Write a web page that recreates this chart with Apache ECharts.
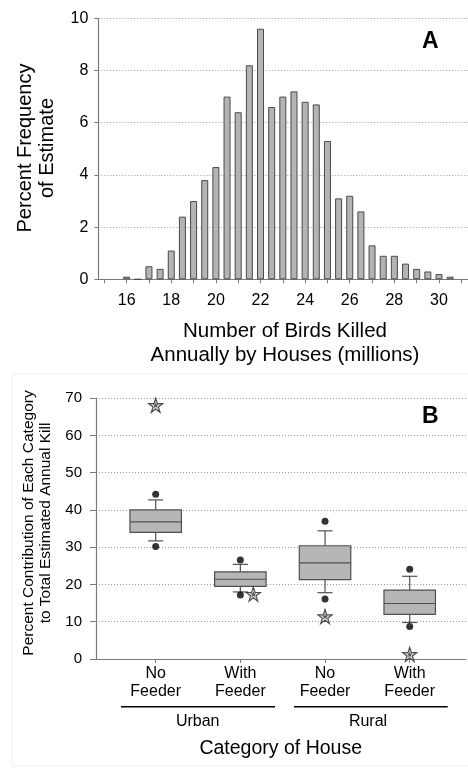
<!DOCTYPE html>
<html><head><meta charset="utf-8">
<script src="https://cdn.jsdelivr.net/npm/echarts@6/dist/echarts.min.js"></script>
<style>html,body{margin:0;padding:0;background:#fff}#c{width:468px;height:772px}</style>
</head><body><div id="c"></div>
<script>
// Panel A: histogram
const binCenters = [16,16.5,17,17.5,18,18.5,19,19.5,20,20.5,21,21.5,22,22.5,23,23.5,24,24.5,25,25.5,26,26.5,27,27.5,28,28.5,29,29.5,30,30.5];
const binPercent = [0.1,0,0.5,0.4,1.1,2.4,3.0,3.8,4.3,7.0,6.4,8.2,9.6,6.6,7.0,7.2,6.8,6.7,5.3,3.1,3.2,2.6,1.3,0.9,0.9,0.6,0.4,0.3,0.2,0.1];
const xTicksA = [15,16,17,18,19,20,21,22,23,24,25,26,27,28,29,30,31];
const xLabelsA = [16,18,20,22,24,26,28,30];

// Panel B: box plots
const categories = ['No\nFeeder','With\nFeeder','No\nFeeder','With\nFeeder'];
const boxLow    = [31.7, 18.0, 17.8, 9.8];
const boxQ1     = [34.0, 19.5, 21.3, 12.0];
const boxMedian = [36.8, 21.4, 25.8, 14.9];
const boxQ3     = [40.0, 23.4, 30.4, 18.5];
const boxHigh   = [42.7, 25.4, 34.4, 22.2];
const dotHigh   = [44.2, 26.6, 37.0, 24.1];
const dotLow    = [30.2, 17.2, 16.1, 8.7];
const starVal   = [68.1, 17.4, 11.4, 1.25];
const starShift = [0, 13, 0, 0];

const FONT = '"Liberation Sans", Arial, sans-serif';
const chart = echarts.init(document.getElementById('c'), null, {renderer:'canvas'});

const barData = binCenters.map((x,i)=>[x, binPercent[i]]);
const boxData = categories.map((c,i)=>[i, boxLow[i], boxQ1[i], boxMedian[i], boxQ3[i], boxHigh[i]]);
const dotData = [];
categories.forEach((c,i)=>{ dotData.push([i, dotHigh[i]]); dotData.push([i, dotLow[i]]); });
const starData = categories.map((c,i)=>({value:[i, starVal[i]], symbolOffset:[starShift[i],0]}));
const starPath = 'path://M50,0 L61.8,35.4 L99,35.4 L69,57.3 L80.4,92.7 L50,70.8 L19.6,92.7 L31,57.3 L1,35.4 L38.2,35.4 Z';

const axisGray = '#7a7a7a';
const gridLineStyle = {color:'#9a9a9a', type:[1,2], width:1};
const TXT = '#000';

chart.setOption({
  animation:false,
  backgroundColor:'#fff',
  grid:[
    {left:98.3, right:0, top:18.3, bottom:492.7},
    {left:96, right:2, top:398.2, bottom:113},
    {left:113.35, right:15.95, top:398.2, bottom:113}
  ],
  xAxis:[
    {type:'value', gridIndex:0, min:14.73, max:31.3,
     axisLine:{show:true, lineStyle:{color:axisGray, width:1.2}},
     axisTick:{show:true, length:4, customValues:xTicksA, lineStyle:{color:axisGray}},
     axisLabel:{show:true, customValues:xLabelsA, margin:13, color:TXT, fontSize:16, fontFamily:FONT},
     splitLine:{show:false}},
    {type:'value', gridIndex:1, min:0, max:1,
     axisLine:{show:true, lineStyle:{color:axisGray, width:1.2}},
     axisTick:{show:false}, axisLabel:{show:false}, splitLine:{show:false}},
    {type:'category', gridIndex:2, data:categories, boundaryGap:true,
     axisLine:{show:false},
     axisTick:{show:true, alignWithLabel:true, length:4, lineStyle:{color:axisGray}},
     axisLabel:{show:true, margin:6, color:TXT, fontSize:16, lineHeight:18, fontFamily:FONT, interval:0},
     splitLine:{show:false}}
  ],
  yAxis:[
    {type:'value', gridIndex:0, min:0, max:10, interval:2,
     axisLine:{show:true, lineStyle:{color:axisGray, width:1.2}},
     axisTick:{show:true, length:4, lineStyle:{color:axisGray}},
     axisLabel:{margin:10, color:TXT, fontSize:16, fontFamily:FONT},
     splitLine:{show:true, lineStyle:gridLineStyle}},
    {type:'value', gridIndex:1, min:0, max:70, interval:10,
     axisLine:{show:true, lineStyle:{color:axisGray, width:1.2}},
     axisTick:{show:true, length:6, lineStyle:{color:axisGray}},
     axisLabel:{margin:14, color:TXT, fontSize:15, fontFamily:FONT},
     splitLine:{show:true, lineStyle:gridLineStyle}},
    {type:'value', gridIndex:2, min:0, max:70, interval:10, show:false}
  ],
  series:[
    {type:'bar', xAxisIndex:0, yAxisIndex:0, data:barData, barWidth:7,
     itemStyle:{color:'#b4b4b4', borderColor:'#4a4a4a', borderWidth:1}},
    {type:'custom', xAxisIndex:2, yAxisIndex:2, data:boxData,
     encode:{x:0, y:[1,2,3,4,5]},
     renderItem:function(params, api){
       const i = api.value(0);
       const low = api.coord([i, api.value(1)]);
       const q1 = api.coord([i, api.value(2)]);
       const med = api.coord([i, api.value(3)]);
       const q3 = api.coord([i, api.value(4)]);
       const high = api.coord([i, api.value(5)]);
       const band = api.size([1,0])[0];
       const bw = band*0.608, cw = 15, x = low[0];
       const ls = {stroke:'#505050', lineWidth:1.2};
       return {type:'group', children:[
         {type:'line', shape:{x1:x,y1:high[1],x2:x,y2:q3[1]}, style:ls},
         {type:'line', shape:{x1:x,y1:q1[1],x2:x,y2:low[1]}, style:ls},
         {type:'line', shape:{x1:x-cw/2,y1:high[1],x2:x+cw/2,y2:high[1]}, style:ls},
         {type:'line', shape:{x1:x-cw/2,y1:low[1],x2:x+cw/2,y2:low[1]}, style:ls},
         {type:'rect', shape:{x:x-bw/2,y:q3[1],width:bw,height:q1[1]-q3[1]}, style:{fill:'#b6b6b6', stroke:'#505050', lineWidth:1.2}},
         {type:'line', shape:{x1:x-bw/2,y1:med[1],x2:x+bw/2,y2:med[1]}, style:ls}
       ]};
     }},
    {type:'scatter', xAxisIndex:2, yAxisIndex:2, data:dotData, symbol:'circle', symbolSize:7,
     itemStyle:{color:'#000'}},
    {type:'scatter', xAxisIndex:2, yAxisIndex:2, data:starData, symbol:starPath, symbolSize:14,
     itemStyle:{color:'#dcdcdc', borderColor:'#222', borderWidth:1.2}},
    {type:'scatter', xAxisIndex:2, yAxisIndex:2, data:starData, symbol:starPath, symbolSize:6,
     itemStyle:{color:'#333'}}
  ],
  graphic:[
    {type:'rect', shape:{x:12, y:374, width:460, height:392}, style:{fill:'none', stroke:'#eeeeee', lineWidth:1}, silent:true, z:-10},
    {type:'text', x:36, y:148, rotation:Math.PI/2, style:{text:'Percent Frequency\nof Estimate', font:'20px '+FONT, lineHeight:22, fill:TXT, align:'center', verticalAlign:'middle'}},
    {type:'text', x:285, y:343.3, style:{text:'Number of Birds Killed\nAnnually by Houses (millions)', font:'20.5px '+FONT, lineHeight:23.3, fill:TXT, align:'center', verticalAlign:'middle'}},
    {type:'text', x:430.3, y:41.7, style:{text:'A', font:'bold 23px '+FONT, fill:'#000', align:'center', verticalAlign:'middle'}},
    {type:'text', x:430.3, y:416.7, style:{text:'B', font:'bold 23px '+FONT, fill:'#000', align:'center', verticalAlign:'middle'}},
    {type:'text', x:37.5, y:523, rotation:Math.PI/2, style:{text:'Percent Contribution of Each Category\nto Total Estimated Annual Kill', font:'15.5px '+FONT, lineHeight:17, fill:TXT, align:'center', verticalAlign:'middle'}},
    {type:'line', shape:{x1:121, y1:706.7, x2:275, y2:706.7}, style:{stroke:'#000', lineWidth:1.5}},
    {type:'line', shape:{x1:294, y1:706.7, x2:447.7, y2:706.7}, style:{stroke:'#000', lineWidth:1.5}},
    {type:'text', x:197.7, y:721.7, style:{text:'Urban', font:'16px '+FONT, fill:TXT, align:'center', verticalAlign:'middle'}},
    {type:'text', x:368, y:721.7, style:{text:'Rural', font:'16px '+FONT, fill:TXT, align:'center', verticalAlign:'middle'}},
    {type:'text', x:280.7, y:748.3, style:{text:'Category of House', font:'19.5px '+FONT, fill:TXT, align:'center', verticalAlign:'middle'}}
  ]
});
</script></body></html>
